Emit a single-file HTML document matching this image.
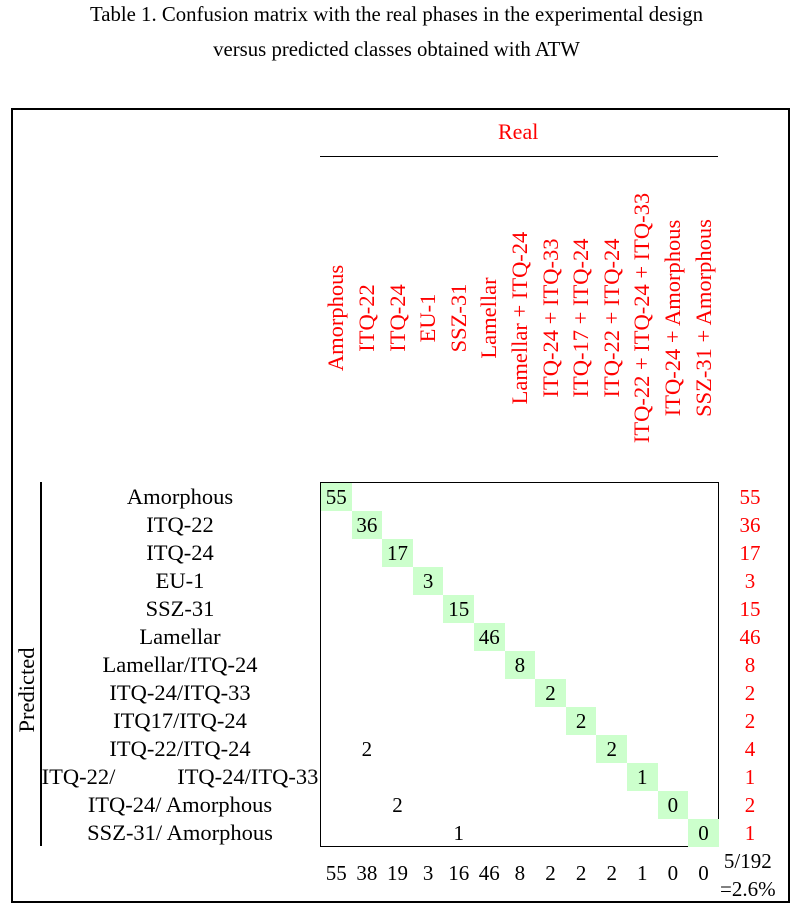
<!DOCTYPE html>
<html><head><style>
body{margin:0;width:793px;height:910px;background:#fff;position:relative;font-family:"Liberation Serif",serif;overflow:hidden}
.a{position:absolute;white-space:nowrap}
.t{font-size:20.8px;left:0;width:793px;text-align:center}
.rl{font-size:22.5px;width:280px;left:40px;text-align:center;height:28px;line-height:28px}
.c{font-size:21px;width:30.6px;height:28px;line-height:28px;text-align:center}
.g{background:#ccffcc}
.h{font-size:22.5px;color:#f00;transform:translate(-50%,-50%) rotate(-90deg);top:318px}
.r{font-size:21px;color:#f00;width:40px;left:730px;text-align:center;height:28px;line-height:28px}
</style></head><body>
<div class="a t" style="top:3px">Table 1. Confusion matrix with the real phases in the experimental design</div>
<div class="a t" style="top:38px">versus predicted classes obtained with ATW</div>
<div class="a" style="left:11px;top:108px;width:775px;height:791px;border:2px solid #000"></div>
<div class="a" style="left:498px;top:119px;font-size:22px;color:#f00">Real</div>
<div class="a" style="left:320px;top:156px;width:398px;height:1px;background:#000"></div>
<div class="a" style="left:320px;top:482px;width:397px;height:363px;border:1.5px solid #000"></div>
<div class="a" style="left:40px;top:482px;width:2px;height:364px;background:#000"></div>
<div class="a" style="left:27px;top:690px;font-size:22.5px;transform:translate(-50%,-50%) rotate(-90deg)">Predicted</div>
<div id="m"></div>
<script>
var H=["Amorphous","ITQ-22","ITQ-24","EU-1","SSZ-31","Lamellar","Lamellar + ITQ-24","ITQ-24 + ITQ-33","ITQ-17 + ITQ-24","ITQ-22 + ITQ-24","ITQ-22 + ITQ-24 + ITQ-33","ITQ-24 + Amorphous","SSZ-31 + Amorphous"];
var R=["Amorphous","ITQ-22","ITQ-24","EU-1","SSZ-31","Lamellar","Lamellar/ITQ-24","ITQ-24/ITQ-33","ITQ17/ITQ-24","ITQ-22/ITQ-24","ITQ-22/&nbsp;&nbsp;&nbsp;&nbsp;&nbsp;&nbsp;&nbsp;&nbsp;&nbsp;&nbsp;&nbsp;ITQ-24/ITQ-33","ITQ-24/ Amorphous","SSZ-31/ Amorphous"];
var D=[55,36,17,3,15,46,8,2,2,2,1,0,0],T=[55,36,17,3,15,46,8,2,2,4,1,2,1],S=[55,38,19,3,16,46,8,2,2,2,1,0,0];
var x0=321,w=30.6,y0=483,hh=28,s="";
for(var i=0;i<13;i++){
 var cx=x0+w*i+w/2;
 s+='<div class="a h" style="left:'+cx+'px">'+H[i]+'</div>';
 s+='<div class="a rl" style="top:'+(y0+hh*i)+'px">'+R[i]+'</div>';
 s+='<div class="a c g" style="left:'+(x0+w*i)+'px;top:'+(y0+hh*i)+'px">'+D[i]+'</div>';
 s+='<div class="a r" style="top:'+(y0+hh*i)+'px">'+T[i]+'</div>';
 s+='<div class="a c" style="left:'+(x0+w*i)+'px;top:859px">'+S[i]+'</div>';
}
s+='<div class="a c" style="left:'+(x0+w)+'px;top:'+(y0+hh*9)+'px">2</div>';
s+='<div class="a c" style="left:'+(x0+w*2)+'px;top:'+(y0+hh*11)+'px">2</div>';
s+='<div class="a c" style="left:'+(x0+w*4)+'px;top:'+(y0+hh*12)+'px">1</div>';
document.getElementById('m').innerHTML=s;
</script>
<div class="a" style="left:720px;top:847px;font-size:21px;line-height:28px;text-align:center">5/192<br>=2.6%</div>
</body></html>
